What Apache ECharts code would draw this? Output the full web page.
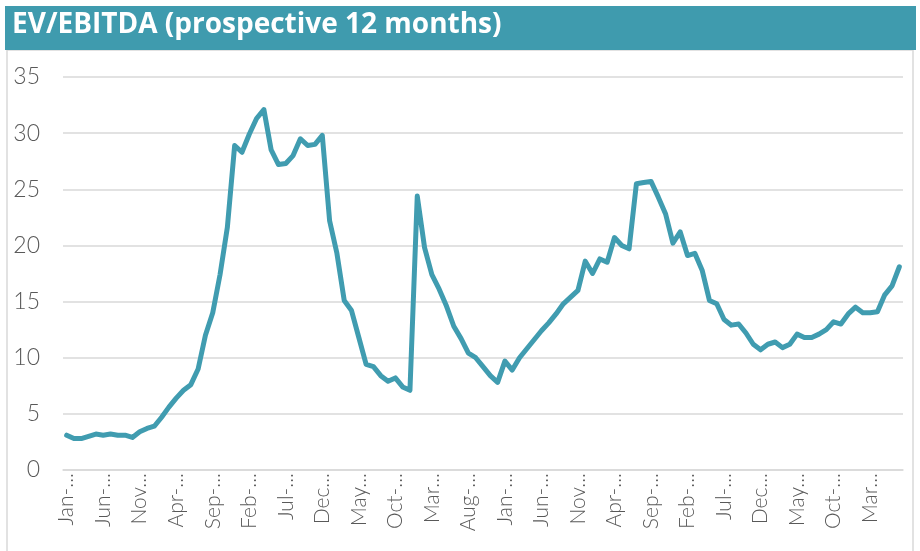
<!DOCTYPE html>
<html>
<head>
<meta charset="utf-8">
<script src="https://cdn.jsdelivr.net/npm/echarts@6/dist/echarts.min.js"></script>
<style>
  html, body { margin: 0; padding: 0; background: #fff; }
  #main { width: 920px; height: 551px; }
</style>
</head>
<body>
<div id="main"></div>
<script>
// month names used for the category axis (first point = Jan)
var monthNames = ['Jan', 'Feb', 'Mar', 'Apr', 'May', 'Jun', 'Jul', 'Aug', 'Sep', 'Oct', 'Nov', 'Dec'];
var startYear = 2011;
var pointCount = 115;

// EV/EBITDA values, one per month
var evEbitda = [
  3.1, 2.8, 2.8, 3.0, 3.2, 3.1, 3.2, 3.1, 3.1, 2.9,
  3.4, 3.7, 3.9, 4.7, 5.6, 6.4, 7.1, 7.6, 9.0, 12.0,
  14.0, 17.4, 21.6, 28.9, 28.3, 29.9, 31.3, 32.1, 28.5, 27.2,
  27.3, 28.0, 29.5, 28.9, 29.0, 29.8, 22.2, 19.3, 15.1, 14.2,
  11.8, 9.4, 9.2, 8.4, 7.9, 8.2, 7.4, 7.1, 24.4, 19.8,
  17.4, 16.1, 14.6, 12.8, 11.7, 10.4, 10.0, 9.2, 8.4, 7.8,
  9.7, 8.9, 10.0, 10.8, 11.6, 12.4, 13.1, 13.9, 14.8, 15.4,
  16.0, 18.6, 17.5, 18.8, 18.5, 20.7, 20.0, 19.7, 25.5, 25.6,
  25.7, 24.3, 22.8, 20.2, 21.2, 19.1, 19.3, 17.8, 15.1, 14.8,
  13.4, 12.9, 13.0, 12.2, 11.2, 10.7, 11.2, 11.4, 10.9, 11.2,
  12.1, 11.8, 11.8, 12.1, 12.5, 13.2, 13.0, 13.9, 14.5, 14.0,
  14.0, 14.1, 15.6, 16.4, 18.1
];

// y axis ticks
var yTicks = [0, 5, 10, 15, 20, 25, 30, 35];

// months whose label only fits three letters before the ellipsis
var wideMonths = ['Nov', 'Dec', 'May', 'Mar'];

var months = [];
for (var i = 0; i < pointCount; i++) {
  var m = monthNames[i % 12];
  var y = startYear + Math.floor(i / 12);
  months.push(m + '-' + String(y).slice(2));
}

var teal = '#409cb0';
var grey = '#595959';
var lineGrey = '#d9d9d9';

var myChart = echarts.init(document.getElementById('main'));
myChart.setOption({
  animation: false,
  backgroundColor: '#fff',
  graphic: [
    {
      type: 'rect',
      shape: { x: 7, y: 50, width: 906, height: 520 },
      style: { fill: 'none', stroke: lineGrey, lineWidth: 1.5 },
      silent: true
    },
    {
      type: 'rect',
      shape: { x: 5, y: 6, width: 911, height: 44 },
      style: { fill: '#3f9bae' },
      silent: true
    },
    {
      type: 'text',
      left: 12,
      top: 11,
      style: {
        text: 'EV/EBITDA (prospective 12 months)',
        fill: '#fff',
        font: 'bold 28px "Open Sans"'
      },
      silent: true
    }
  ],
  grid: { left: 63, right: 17, top: 77, bottom: 81 },
  xAxis: {
    type: 'category',
    data: months,
    boundaryGap: true,
    axisLine: { lineStyle: { color: lineGrey, width: 1.5 } },
    axisTick: { interval: 4, length: 5, lineStyle: { color: lineGrey, width: 1.5 } },
    axisLabel: {
      interval: 4,
      rotate: 90,
      margin: 3,
      fontFamily: 'Lato',
      fontWeight: 300,
      fontSize: 21,
      color: grey,
      formatter: function (v) {
        var n = wideMonths.indexOf(v.slice(0, 3)) >= 0 ? 3 : 4;
        return v.slice(0, n) + '...';
      }
    }
  },
  yAxis: {
    type: 'value',
    min: yTicks[0],
    max: yTicks[yTicks.length - 1],
    interval: 5,
    axisLine: { show: false },
    axisTick: { show: false },
    axisLabel: {
      margin: 23,
      fontFamily: 'Lato',
      fontWeight: 300,
      fontSize: 23,
      color: grey
    },
    splitLine: { lineStyle: { color: lineGrey, width: 1.5 } }
  },
  series: [
    {
      name: 'EV/EBITDA',
      type: 'line',
      data: evEbitda,
      showSymbol: false,
      lineStyle: { color: teal, width: 5, join: 'round', cap: 'round' }
    }
  ]
});
</script>
</body>
</html>
